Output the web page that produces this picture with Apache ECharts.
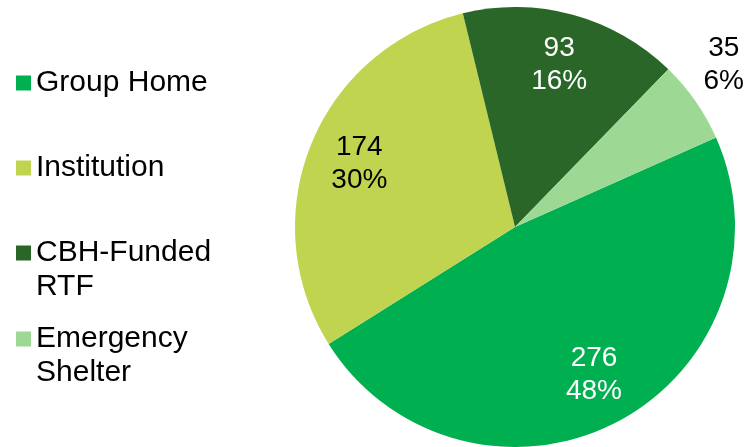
<!DOCTYPE html>
<html>
<head>
<meta charset="utf-8">
<script src="https://cdn.jsdelivr.net/npm/echarts@6/dist/echarts.min.js"></script>
<style>
  html, body { margin: 0; padding: 0; background: #fff; }
  #pie { width: 744px; height: 447px; }
</style>
</head>
<body>
<div id="pie"></div>
<script>
// chart data
const categories = ["Group Home", "Institution", "CBH-Funded RTF", "Emergency Shelter"];
const counts = [276, 174, 93, 35];
const percents = ["48%", "30%", "16%", "6%"];
const legendLines = [["Group Home"], ["Institution"], ["CBH-Funded", "RTF"], ["Emergency", "Shelter"]];

const colors = ["#00AF50", "#C0D44F", "#2A6628", "#9DD995"];
const labelColors = ["#fff", "#000", "#fff", "#000"];
const legendTops = [66, 151, 202, 288];

const chart = echarts.init(document.getElementById("pie"));

const R = 220;
const fontFamily = "Liberation Sans, Arial, sans-serif";

// base pie with the colours
const pieData = categories.map((name, i) => ({
    name: name,
    value: counts[i],
    itemStyle: { color: colors[i] },
}));

// transparent ring on top, only used so labels sit further out than the default "inside" spot
const labelData = categories.map((name, i) => {
    const item = {
        name: name,
        value: counts[i],
        itemStyle: { color: "rgba(0,0,0,0)" },
        label: { color: labelColors[i] },
    };
    if (name === "Emergency Shelter") {
        item.label.offset = [71, -66];
    }
    return item;
});

const legends = categories.map((name, i) => ({
    data: [name],
    orient: "vertical",
    left: 16,
    top: legendTops[i],
    padding: 0,
    icon: "rect",
    itemWidth: 15,
    itemHeight: 15,
    selectedMode: false,
    formatter: () => {
        const lines = legendLines[i];
        return lines.length > 1 ? "\n" + lines.join("\n") : lines[0];
    },
    textStyle: {
        fontFamily: fontFamily,
        fontSize: 30,
        lineHeight: 34,
        color: "#000",
    },
}));

const option = {
    animation: false,
    legend: legends,
    series: [
        {
            name: "base",
            type: "pie",
            center: [515, 227],
            radius: [0, R],
            startAngle: 24,
            clockwise: true,
            data: pieData,
            label: { show: false },
            labelLine: { show: false },
            itemStyle: { borderWidth: 0 },
            emphasis: { disabled: true },
            silent: true,
        },
        {
            name: "labels",
            type: "pie",
            center: [515, 227],
            radius: [R * 0.5, R],
            startAngle: 24,
            clockwise: true,
            data: labelData,
            avoidLabelOverlap: false,
            label: {
                show: true,
                position: "inside",
                formatter: (p) => counts[p.dataIndex] + "\n" + percents[p.dataIndex],
                fontFamily: fontFamily,
                fontSize: 28,
                lineHeight: 33,
                align: "center",
            },
            labelLine: { show: false },
            itemStyle: { borderWidth: 0 },
            emphasis: { disabled: true },
            silent: true,
            legendHoverLink: false,
        },
    ],
};

chart.setOption(option);
</script>
</body>
</html>
